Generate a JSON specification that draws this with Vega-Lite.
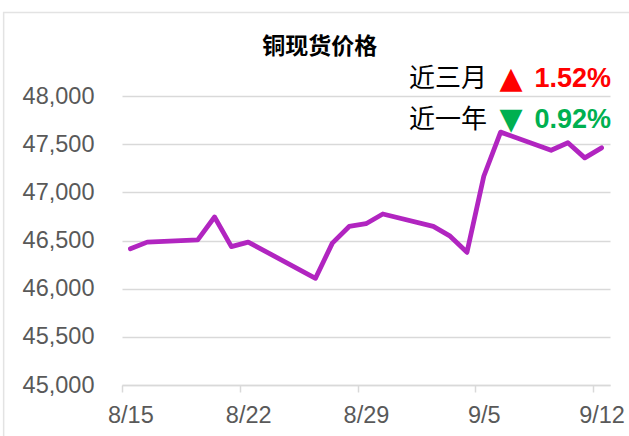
{
  "$schema": "https://vega.github.io/schema/vega-lite/v6.json",
  "width": 488,
  "height": 289,
  "autosize": {"type": "none"},
  "padding": {"left": 122, "top": 96, "right": 19, "bottom": 51},
  "background": "white",
  "config": {
    "view": {"stroke": null},
    "font": "Liberation Sans",
    "axisX": {
      "domainColor": "#d9d9d9", "domainWidth": 1.5,
      "tickColor": "#d9d9d9", "tickWidth": 1.5, "tickSize": 7,
      "labelColor": "#595959", "labelFontSize": 23.5, "labelFont": "Liberation Sans",
      "grid": false, "labelOffset": 8.4, "labelPadding": 11,
      "labelFlush": false, "labelOverlap": false, "labelBound": false
    },
    "axisY": {
      "domain": false, "ticks": false, "tickSize": 0,
      "grid": true, "gridColor": "#d9d9d9", "gridWidth": 1.5,
      "labelColor": "#595959", "labelFontSize": 23.5, "labelFont": "Liberation Sans",
      "labelExpr": "format(datum.value, ',')",
      "labelPadding": 28, "labelFlush": false, "labelOverlap": false, "labelBound": false
    }
  },
  "data": {
    "values": [
      {"date": "2024-08-15T12:00:00", "price": 46414},
      {"date": "2024-08-16T12:00:00", "price": 46483},
      {"date": "2024-08-19T12:00:00", "price": 46507},
      {"date": "2024-08-20T12:00:00", "price": 46744},
      {"date": "2024-08-21T12:00:00", "price": 46437},
      {"date": "2024-08-22T12:00:00", "price": 46483},
      {"date": "2024-08-26T12:00:00", "price": 46108},
      {"date": "2024-08-27T12:00:00", "price": 46473},
      {"date": "2024-08-28T12:00:00", "price": 46646},
      {"date": "2024-08-29T12:00:00", "price": 46674},
      {"date": "2024-08-30T12:00:00", "price": 46775},
      {"date": "2024-09-02T12:00:00", "price": 46647},
      {"date": "2024-09-03T12:00:00", "price": 46545},
      {"date": "2024-09-04T12:00:00", "price": 46377},
      {"date": "2024-09-05T12:00:00", "price": 47167},
      {"date": "2024-09-06T12:00:00", "price": 47625},
      {"date": "2024-09-09T12:00:00", "price": 47437},
      {"date": "2024-09-10T12:00:00", "price": 47515},
      {"date": "2024-09-11T12:00:00", "price": 47358},
      {"date": "2024-09-12T12:00:00", "price": 47462}
    ]
  },
  "layer": [
    {
      "data": {"values": [{}]},
      "mark": {"type": "rect", "filled": false, "stroke": "#e3e3e3", "strokeWidth": 1.5, "clip": false},
      "encoding": {
        "x": {"datum": {"year": 2024, "month": 8, "date": 7, "hours": 23, "minutes": 11}, "type": "temporal", "title": null},
        "x2": {"datum": {"year": 2024, "month": 10, "date": 20}},
        "y": {"datum": 48868, "type": "quantitative", "title": null},
        "y2": {"datum": 40000}
      }
    },
    {
      "mark": {"type": "line", "color": "#B125C0", "strokeWidth": 4.8, "strokeCap": "round", "strokeJoin": "round"},
      "encoding": {
        "x": {
          "field": "date", "type": "temporal", "title": null,
          "scale": {"domain": [{"year": 2024, "month": 8, "date": 15}, {"year": 2024, "month": 9, "date": 13}], "nice": false},
          "axis": {
            "values": [
              {"year": 2024, "month": 8, "date": 15},
              {"year": 2024, "month": 8, "date": 22},
              {"year": 2024, "month": 8, "date": 29},
              {"year": 2024, "month": 9, "date": 5},
              {"year": 2024, "month": 9, "date": 12}
            ],
            "format": "%-m/%-d"
          }
        },
        "y": {
          "field": "price", "type": "quantitative", "title": null,
          "scale": {"domain": [45000, 48000], "nice": false, "zero": false},
          "axis": {"values": [45000, 45500, 46000, 46500, 47000, 47500, 48000]}
        }
      }
    },
    {
      "data": {"values": [{}]},
      "mark": {"type": "text", "text": "铜现货价格", "font": "Noto Sans CJK SC", "fontSize": 23, "fontWeight": "bold", "color": "#000000", "align": "center", "baseline": "middle", "clip": false},
      "encoding": {
        "x": {"datum": {"year": 2024, "month": 8, "date": 26, "hours": 18, "minutes": 8}, "type": "temporal", "title": null},
        "y": {"datum": 48506, "type": "quantitative", "title": null}
      }
    },
    {
      "data": {"values": [{}]},
      "mark": {"type": "text", "text": "近三月", "font": "Noto Sans CJK SC", "fontSize": 26, "color": "#000000", "align": "right", "baseline": "middle", "dx": -123, "clip": false},
      "encoding": {
        "x": {"datum": {"year": 2024, "month": 9, "date": 13}, "type": "temporal", "title": null},
        "y": {"datum": 48177, "type": "quantitative", "title": null}
      }
    },
    {
      "data": {"values": [{}]},
      "mark": {"type": "text", "text": "▲", "font": "DejaVu Sans", "fontSize": 30, "color": "#FF0000", "align": "center", "baseline": "middle", "dx": -99, "clip": false},
      "encoding": {
        "x": {"datum": {"year": 2024, "month": 9, "date": 13}, "type": "temporal", "title": null},
        "y": {"datum": 48177, "type": "quantitative", "title": null}
      }
    },
    {
      "data": {"values": [{}]},
      "mark": {"type": "text", "text": "1.52%", "font": "Liberation Sans", "fontSize": 27, "fontWeight": "bold", "color": "#FF0000", "align": "right", "baseline": "middle", "dx": 1, "clip": false},
      "encoding": {
        "x": {"datum": {"year": 2024, "month": 9, "date": 13}, "type": "temporal", "title": null},
        "y": {"datum": 48177, "type": "quantitative", "title": null}
      }
    },
    {
      "data": {"values": [{}]},
      "mark": {"type": "text", "text": "近一年", "font": "Noto Sans CJK SC", "fontSize": 26, "color": "#000000", "align": "right", "baseline": "middle", "dx": -123, "clip": false},
      "encoding": {
        "x": {"datum": {"year": 2024, "month": 9, "date": 13}, "type": "temporal", "title": null},
        "y": {"datum": 47749, "type": "quantitative", "title": null}
      }
    },
    {
      "data": {"values": [{}]},
      "mark": {"type": "text", "text": "▼", "font": "DejaVu Sans", "fontSize": 30, "color": "#00B050", "align": "center", "baseline": "middle", "dx": -99, "clip": false},
      "encoding": {
        "x": {"datum": {"year": 2024, "month": 9, "date": 13}, "type": "temporal", "title": null},
        "y": {"datum": 47749, "type": "quantitative", "title": null}
      }
    },
    {
      "data": {"values": [{}]},
      "mark": {"type": "text", "text": "0.92%", "font": "Liberation Sans", "fontSize": 27, "fontWeight": "bold", "color": "#00B050", "align": "right", "baseline": "middle", "dx": 1, "clip": false},
      "encoding": {
        "x": {"datum": {"year": 2024, "month": 9, "date": 13}, "type": "temporal", "title": null},
        "y": {"datum": 47749, "type": "quantitative", "title": null}
      }
    }
  ]
}
